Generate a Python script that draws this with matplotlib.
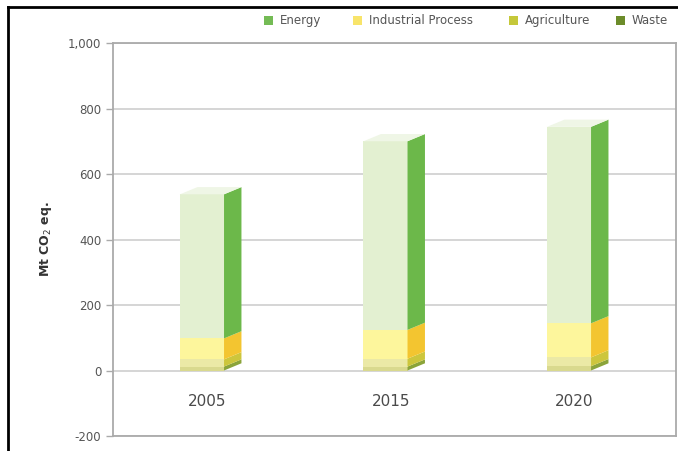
import matplotlib.pyplot as plt
from matplotlib.patches import Polygon, Rectangle
from matplotlib.lines import Line2D
import numpy as np

years = ['2005', '2015', '2020']
waste = [12, 12, 13]
agriculture = [22, 24, 27]
industrial = [64, 88, 104]
energy = [440, 576, 600]

series = ['Energy', 'Industrial Process', 'Agriculture', 'Waste']
front_cols = {'Waste': '#d9d98e', 'Agriculture': '#ebe9a6',
              'Industrial Process': '#fdf69c', 'Energy': '#e3f0d1'}
side_cols = {'Waste': '#8ba43a', 'Agriculture': '#cdc63c',
             'Industrial Process': '#f3c530', 'Energy': '#6cb84a'}
legend_cols = {'Energy': '#74bb55', 'Industrial Process': '#f8e46a',
               'Agriculture': '#c5c83a', 'Waste': '#6c8c2a'}

W, H = 678, 451
fig = plt.figure(figsize=(W/100, H/100), dpi=100)
ax = fig.add_axes([113/W, 1 - 436/H, 563/W, 393/H])

x = np.arange(len(years))
w = 0.24      # front face width
dd = 0.095    # depth in x
dy = 22       # depth in y

stack = [('Waste', waste), ('Agriculture', agriculture),
         ('Industrial Process', industrial), ('Energy', energy)]
bottom = np.zeros(len(years))
for name, vals in stack:
    vals = np.array(vals, dtype=float)
    ax.bar(x, vals, w, bottom=bottom, color=front_cols[name], zorder=3,
           linewidth=0)
    for i in range(len(x)):
        xr = x[i] + w / 2
        b = bottom[i]
        t = b + vals[i]
        ax.add_patch(Polygon([(xr, b), (xr + dd, b + dy), (xr + dd, t + dy), (xr, t)],
                             closed=True, fc=side_cols[name], ec='none', zorder=3))
    bottom += vals

# top faces
for i in range(len(x)):
    xl = x[i] - w / 2
    xr = x[i] + w / 2
    t = bottom[i]
    ax.add_patch(Polygon([(xl, t), (xl + dd, t + dy), (xr + dd, t + dy), (xr, t)],
                         closed=True, fc='#eff6e6', ec='none', zorder=3))

for i, yr in enumerate(years):
    ax.text(x[i] + 0.03, -95, yr, ha='center', va='center', fontsize=11,
            color='#4a4a4a')

ax.set_xlim(-0.485, 2.583)
ax.set_ylim(-200, 1000)
ax.set_yticks(range(-200, 1001, 200))
ax.set_yticklabels(['-200', '0', '200', '400', '600', '800', '1,000'])
ax.set_xticks([])
ax.tick_params(axis='y', labelsize=8.5, labelcolor='#555555', color='#aaaaaa',
               length=5, width=1)
ax.yaxis.grid(True, color='#d2d2d2', linewidth=1.3, zorder=0)
ax.set_axisbelow(True)
for s in ax.spines.values():
    s.set_color('#aaaaaa')
    s.set_linewidth(1.3)

ax.set_ylabel('Mt CO$_2$ eq.', fontsize=9, fontweight='bold', color='#333333',
              labelpad=10)

# legend along the top, hand placed
leg_x = [264, 353, 509, 616]
for name, lx in zip(series, leg_x):
    fig.add_artist(Rectangle((lx/W, 1 - 25/H), 9/W, 9/H, fc=legend_cols[name],
                             ec='none', transform=fig.transFigure))
    fig.text((lx + 16)/W, 1 - 20.5/H, name, fontsize=8.5, color='#555555',
             va='center', ha='left')

# outer black frame
fig.add_artist(Line2D([8/W, 1], [1 - 7/H, 1 - 7/H], color='black', lw=2,
                      transform=fig.transFigure))
fig.add_artist(Line2D([8/W, 8/W], [0, 1 - 7/H], color='black', lw=2,
                      transform=fig.transFigure))

fig.savefig('out.png', dpi=100)
